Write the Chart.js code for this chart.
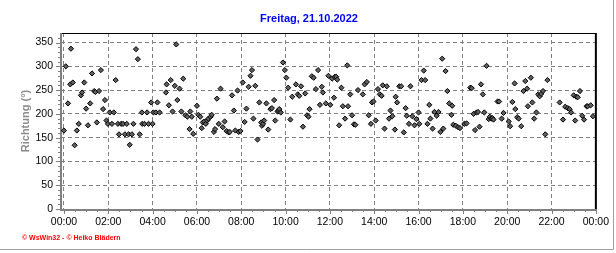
<!DOCTYPE html>
<html>
<head>
<meta charset="utf-8">
<script src="https://cdn.jsdelivr.net/npm/chart.js@4.4.1/dist/chart.umd.min.js"></script>
<style>
    html, body { margin: 0; padding: 0; background: #fff; }
    canvas { display: block; }
</style>
</head>
<body>
<canvas id="windChart" width="616" height="253"></canvas>
<script>
const chartTitle = 'Freitag, 21.10.2022';
const yAxisTitle = 'Richtung (°)';
const footerText = '© WsWin32 - © Heiko Blädern';

// axis ticks (x in minutes after midnight)
const xTickMinutes = [0, 120, 240, 360, 480, 600, 720, 840, 960, 1080, 1200, 1320, 1440];
const xTickLabels = ['00:00', '02:00', '04:00', '06:00', '08:00', '10:00', '12:00',
    '14:00', '16:00', '18:00', '20:00', '22:00', '00:00'];
const yTickValues = [0, 50, 100, 150, 200, 250, 300, 350];

// wind direction readings: time (minutes) and direction (degrees)
const minutes = [
    0, 5, 11, 17, 19, 24, 29, 35, 40, 46, 49, 55, 60, 65, 71, 76, 82, 85, 89, 95,
    100, 106, 111, 115, 119, 124, 130, 135, 140, 146, 149, 155, 160, 165, 170, 175, 178, 184, 188, 195,
    200, 205, 211, 212, 218, 225, 229, 236, 240, 242, 249, 253, 259, 276, 278, 284, 289, 294, 300, 304,
    307, 313, 318, 323, 329, 334, 340, 342, 346, 350,
    360, 364, 369, 373, 376, 380, 384, 388, 391, 397, 400, 406, 409, 414, 419, 424, 430, 435, 440, 446,
    449, 455, 460, 464, 470, 473, 478, 484, 489, 494, 500, 505, 509, 513, 518, 524, 529, 534, 536, 539,
    542, 548, 553, 559, 563, 569, 572, 578, 581, 583, 587, 593, 598, 602, 607, 613, 618, 628, 633, 637,
    642, 647, 653, 658, 662, 665, 671, 676, 682, 688, 693, 698, 701,
    709, 716, 721, 726, 731, 733, 737, 740, 745, 751, 755, 761, 767, 769, 775, 780, 785, 789, 796, 809,
    814, 820, 825, 831, 834, 838, 844, 850, 855, 860, 863, 868, 874, 880, 884, 889, 896, 898, 902, 908,
    913, 920, 925, 928, 934, 938, 943, 949, 954, 960, 962, 968, 974, 978, 984, 989, 992, 998, 1003, 1009,
    1014, 1019, 1024, 1027, 1033, 1038, 1043, 1049, 1051, 1054,
    1061, 1067, 1072, 1084, 1090, 1100, 1104, 1109, 1113, 1117, 1121, 1125, 1129, 1134, 1138, 1144, 1150, 1153, 1157, 1160,
    1163, 1174, 1178, 1185, 1190, 1204, 1208, 1214, 1220, 1222, 1227, 1231, 1238, 1244, 1249, 1254, 1256, 1264, 1268, 1273,
    1279, 1284, 1288, 1292, 1297, 1303, 1309, 1342, 1351, 1357, 1364, 1369, 1373, 1380, 1384, 1387, 1391, 1397, 1403, 1408,
    1415, 1418, 1426, 1432
];
const direction = [
    165, 300, 222, 262, 337, 266, 134, 165, 179, 239, 245, 266, 211, 176, 222, 285, 248, 246, 182, 248,
    292, 210, 229, 186, 179, 203, 179, 203, 271, 179, 157, 179, 179, 157, 179, 157, 135, 157, 179, 336,
    315, 157, 203, 179, 179, 203, 179, 224, 179, 203, 203, 224, 203, 245, 262, 218, 271, 205, 259, 346,
    229, 253, 205, 274, 197, 194, 168, 205, 194, 158,
    217, 198, 194, 170, 182, 184, 179, 186, 190, 194, 198, 162, 168, 232, 179, 253, 172, 184, 164, 161,
    162, 239, 207, 165, 249, 162, 164, 266, 183, 211, 257, 280, 292, 190, 259, 146, 224, 182, 175, 179,
    186, 222, 167, 210, 212, 229, 186, 205, 207, 210, 203, 308, 292, 276, 255, 188, 236, 262, 241, 238,
    258, 173, 243, 197, 194, 210, 279, 276, 252, 292, 219, 257, 245,
    222, 280, 219, 274, 234, 278, 278, 272, 176, 255, 216, 190, 302, 216, 241, 197, 178, 177, 250, 241,
    262, 267, 197, 179, 224, 226, 186, 252, 241, 238, 260, 169, 258, 190, 207, 195, 167, 236, 224, 258,
    258, 161, 212, 196, 179, 258, 195, 176, 189, 203, 179, 271, 291, 271, 179, 219, 190, 169, 204, 196,
    204, 162, 316, 169, 290, 248, 222, 198, 217, 177,
    175, 172, 170, 179, 180, 255, 254, 200, 166, 203, 204, 173, 262, 241, 203, 301, 189, 194, 190, 191,
    188, 226, 226, 190, 202, 184, 174, 225, 264, 210, 193, 190, 174, 248, 269, 253, 216, 276, 224, 190,
    203, 241, 237, 242, 248, 157, 271, 224, 188, 215, 212, 210, 203, 239, 186, 236, 235, 248, 196, 188,
    216, 216, 218, 195
];

const fontFamily = '"Liberation Sans", Arial, sans-serif';

// axis lines, tick marks, frame, title and footer (drawn by hand like the original)
const decorations = {
    id: 'decorations',
    beforeDatasetsDraw(chart) {
        const { ctx, chartArea: a, scales: { x, y } } = chart;
        ctx.save();
        ctx.strokeStyle = '#808080';
        ctx.lineWidth = 1;
        ctx.beginPath();
        for (let m = 0; m <= 1440; m += 30) {
            const px = Math.round(x.getPixelForValue(m)) + 0.5;
            const len = m % 120 === 0 ? 5 : 3;
            ctx.moveTo(px, a.bottom);
            ctx.lineTo(px, a.bottom + len);
        }
        for (let v = 0; v <= 360; v += 10) {
            const py = Math.round(y.getPixelForValue(v)) + 0.5;
            const len = v % 50 === 0 ? 5 : 3;
            ctx.moveTo(a.left - len, py);
            ctx.lineTo(a.left, py);
        }
        ctx.stroke();

        // top and right border
        ctx.strokeStyle = '#000';
        ctx.lineWidth = 1;
        ctx.beginPath();
        ctx.moveTo(a.left, a.top + 0.5);
        ctx.lineTo(a.right, a.top + 0.5);
        ctx.stroke();
        ctx.lineWidth = 2;
        ctx.beginPath();
        ctx.moveTo(a.right, a.top);
        ctx.lineTo(a.right, a.bottom);
        ctx.stroke();

        // left and bottom axis
        ctx.strokeStyle = '#808080';
        ctx.lineWidth = 2;
        ctx.beginPath();
        ctx.moveTo(a.left, a.top);
        ctx.lineTo(a.left, a.bottom + 1);
        ctx.lineTo(a.right + 1, a.bottom + 1);
        ctx.stroke();
        ctx.restore();
    },
    afterDraw(chart) {
        const { ctx, width } = chart;
        ctx.save();
        ctx.fillStyle = '#0000ff';
        ctx.font = 'bold 11px ' + fontFamily;
        ctx.textAlign = 'center';
        ctx.textBaseline = 'middle';
        ctx.fillText(chartTitle, width / 2 + 1, 19);

        ctx.fillStyle = '#ff0000';
        ctx.font = 'bold 7px ' + fontFamily;
        ctx.textAlign = 'left';
        ctx.fillText(footerText, 22, 238);

        // outer frame
        ctx.strokeStyle = '#a0a0a0';
        ctx.lineWidth = 1;
        ctx.beginPath();
        ctx.moveTo(613.5, 0);
        ctx.lineTo(613.5, 249.5);
        ctx.lineTo(0, 249.5);
        ctx.stroke();
        ctx.restore();
    }
};

const ctx = document.getElementById('windChart').getContext('2d');
const windChart = new Chart(ctx, {
    type: 'scatter',
    data: {
        datasets: [{
            label: 'Richtung',
            data: minutes.map((m, i) => ({ x: m, y: direction[i] })),
            pointStyle: 'rectRot',
            pointRadius: 2.6,
            backgroundColor: '#606060',
            borderColor: '#000',
            borderWidth: 1
        }]
    },
    options: {
        responsive: false,
        animation: false,
        layout: { padding: { top: 33, right: 19, bottom: 14, left: 0 } },
        plugins: {
            legend: { display: false },
            tooltip: { enabled: false },
            title: { display: false }
        },
        scales: {
            x: {
                type: 'linear',
                min: -8,
                max: 1440,
                afterBuildTicks: s => { s.ticks = xTickMinutes.map(v => ({ value: v })); },
                afterFit: s => { s.height = 30; },
                ticks: {
                    padding: 7,
                    color: '#000',
                    autoSkip: false,
                    maxRotation: 0,
                    font: { family: fontFamily, size: 10.5 },
                    callback: (v, i) => xTickLabels[i]
                },
                grid: { color: '#808080', drawTicks: false },
                border: { display: false, dash: [4, 3] }
            },
            y: {
                min: 0,
                max: 370,
                afterBuildTicks: s => { s.ticks = yTickValues.map(v => ({ value: v })); },
                afterFit: s => { s.width = 61; },
                ticks: {
                    padding: 8,
                    color: '#000',
                    font: { family: fontFamily, size: 10.5 },
                    callback: v => String(v)
                },
                title: {
                    display: true,
                    text: yAxisTitle,
                    color: '#8c8c8c',
                    font: { family: fontFamily, size: 11, weight: 'bold' },
                    padding: { top: 19, bottom: 0 }
                },
                grid: { color: '#808080', drawTicks: false },
                border: { display: false, dash: [4, 3] }
            }
        }
    },
    plugins: [decorations]
});
</script>
</body>
</html>
